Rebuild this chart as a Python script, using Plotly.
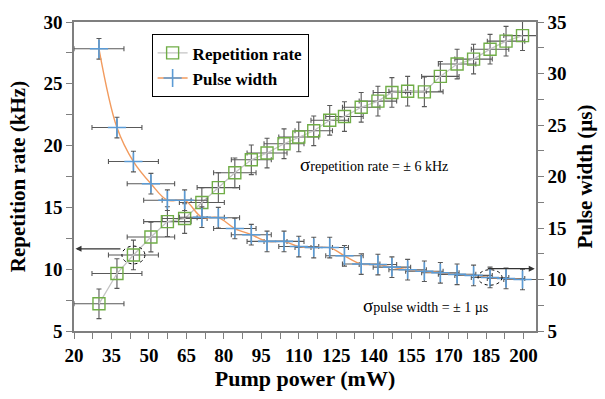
import plotly.graph_objects as go

# ---- data ----
pump_power = [30, 37.2, 43.8, 50.8, 57.4, 64.3, 71.2, 77.8, 84.4, 91.0, 97.3, 104.1, 110.0,
              116.0, 122.4, 128.3, 135.0, 141.7, 147.3, 153.6, 160.3, 166.7, 173.4, 180.0,
              186.6, 193.0, 199.6]
rep_rate = [7.2, 9.65, 11.15, 12.6, 13.85, 14.1, 15.4, 16.6, 17.8, 18.85, 19.4, 20.15, 20.7,
            21.2, 22.05, 22.35, 23.1, 23.6, 24.3, 24.4, 24.35, 25.6, 26.6, 27.0, 27.8, 28.45, 28.9]
pulse_width = [32.4, 24.75, 21.45, 19.3, 17.7, 17.7, 16.05, 16.0, 14.95, 14.35, 13.7, 13.7, 13.2,
               13.1, 13.1, 12.3, 11.5, 11.45, 11.2, 10.95, 10.8, 10.65, 10.5, 10.4, 10.2, 10.1, 10.0]
power_err = [10, 10, 10, 9.5, 9.5, 9, 9, 8.5, 8.5, 8, 8, 8, 8, 7.5, 7.5, 7.5, 7.5, 7.5, 7.5,
             7.5, 7.5, 7.5, 7.5, 7.5, 7.5, 7.5, 7.5]
rep_err = [1.2] * len(pump_power)
pw_err = [1.0] * len(pump_power)

x_ticks = [20, 35, 50, 65, 80, 95, 110, 125, 140, 155, 170, 185, 200]
y1_ticks = [5, 10, 15, 20, 25, 30]
y2_ticks = [5, 10, 15, 20, 25, 30, 35]

FONT = "serif"
AXC = "#7f7f7f"
ERRC = "#595959"


def bold_font(size):
    return dict(family=FONT, size=size, color="black", weight="bold")


fig = go.Figure()

fig.add_trace(go.Scatter(
    x=pump_power, y=rep_rate, name="Repetition rate", mode="lines+markers",
    line=dict(color="#c4c4c4", width=1.3),
    marker=dict(symbol="square-open", size=12, color="#70AD47", line=dict(width=1.4, color="#70AD47")),
    error_x=dict(type="data", array=power_err, color=ERRC, thickness=1.1, width=2.5),
    error_y=dict(type="data", array=rep_err, color=ERRC, thickness=1.1, width=2.5),
    yaxis="y"))

fig.add_trace(go.Scatter(
    x=pump_power, y=pulse_width, name="Pulse width", mode="lines+markers",
    line=dict(color="#F29B5E", width=1.4, shape="spline", smoothing=1.0),
    marker=dict(symbol="cross-thin-open", size=13, color="#5B9BD5", line=dict(width=1.6, color="#5B9BD5")),
    error_x=dict(type="data", array=power_err, color=ERRC, thickness=1.1, width=2.5),
    error_y=dict(type="data", array=pw_err, color=ERRC, thickness=1.1, width=2.5),
    yaxis="y2"))

tickfont = bold_font(19)

fig.update_layout(
    width=605, height=399,
    margin=dict(l=74, r=62, t=22, b=60),
    paper_bgcolor="white", plot_bgcolor="white",
    showlegend=True,
    legend=dict(x=0.168, y=0.96, xanchor="left", yanchor="top",
                bgcolor="white", bordercolor="black", borderwidth=1,
                font=bold_font(17), itemwidth=30, tracegroupgap=2),
    xaxis=dict(range=[20, 205], tickvals=x_ticks, ticktext=[str(v) for v in x_ticks],
               showgrid=False, zeroline=False, showline=True, linecolor=AXC, linewidth=1.5,
               mirror=True, ticks="outside", ticklen=6, tickcolor=AXC, tickwidth=1.2,
               minor=dict(dtick=7.5, tick0=20, ticks="outside", ticklen=6, tickcolor=AXC, tickwidth=1.2),
               tickfont=tickfont,
               title=dict(text="Pump power (mW)", font=bold_font(22), standoff=6)),
    yaxis=dict(range=[5, 30], tickvals=y1_ticks, ticktext=[str(v) for v in y1_ticks],
               showgrid=False, zeroline=False,
               showline=True, linecolor=AXC, linewidth=1.5, mirror=True,
               ticks="outside", ticklen=6, tickcolor=AXC, tickwidth=1.2,
               minor=dict(dtick=2.5, tick0=5, ticks="outside", ticklen=6, tickcolor=AXC, tickwidth=1.2),
               tickfont=tickfont,
               title=dict(text="Repetition rate (kHz)", font=bold_font(21), standoff=12)),
    yaxis2=dict(range=[5, 35], tickvals=y2_ticks, ticktext=[str(v) for v in y2_ticks],
                overlaying="y", side="right",
                showgrid=False, zeroline=False, showline=True, linecolor=AXC, linewidth=1.5,
                ticks="outside", ticklen=6, tickcolor=AXC, tickwidth=1.2,
                minor=dict(dtick=2.5, tick0=5, ticks="outside", ticklen=6, tickcolor=AXC, tickwidth=1.2),
                tickfont=tickfont,
                title=dict(text="Pulse width (µs)", font=bold_font(21), standoff=12)),
)

# dashed ellipses around highlighted points
i1, i2 = 2, 24
fig.add_shape(type="circle", xref="x", yref="y",
              x0=pump_power[i1] - 4.6, x1=pump_power[i1] + 4.6,
              y0=rep_rate[i1] - 0.72, y1=rep_rate[i1] + 0.72,
              line=dict(color="black", width=1, dash="dot"))
fig.add_shape(type="circle", xref="x", yref="y2",
              x0=pump_power[i2] - 4.8, x1=pump_power[i2] + 4.8,
              y0=pulse_width[i2] - 0.75, y1=pulse_width[i2] + 0.75,
              line=dict(color="black", width=1, dash="dot"))

# arrows to the axes
fig.add_annotation(x=20.6, y=rep_rate[i1] + 0.5, xref="x", yref="y",
                   ax=pump_power[i1] - 4.6, ay=rep_rate[i1] + 0.5, axref="x", ayref="y",
                   showarrow=True, arrowhead=2, arrowsize=1, arrowwidth=1.2, arrowcolor="#333333", text="")
fig.add_annotation(x=204.5, y=pulse_width[i2] + 0.85, xref="x", yref="y2",
                   ax=pump_power[i2] - 1.5, ay=pulse_width[i2] + 0.85, axref="x", ayref="y2",
                   showarrow=True, arrowhead=2, arrowsize=1, arrowwidth=1.2, arrowcolor="#333333", text="")

# sigma labels
fig.add_annotation(x=109.5, y=18.5, xref="x", yref="y", xanchor="left", yanchor="middle", showarrow=False,
                   text="<span style='font-size:19px'>σ</span>repetition rate = ± 6 kHz",
                   font=dict(family=FONT, size=14, color="black"))
fig.add_annotation(x=134.8, y=7.05, xref="x", yref="y", xanchor="left", yanchor="middle", showarrow=False,
                   text="<span style='font-size:19px'>σ</span>pulse width = ± 1 µs",
                   font=dict(family=FONT, size=14, color="black"))

fig.write_html("out.html")
